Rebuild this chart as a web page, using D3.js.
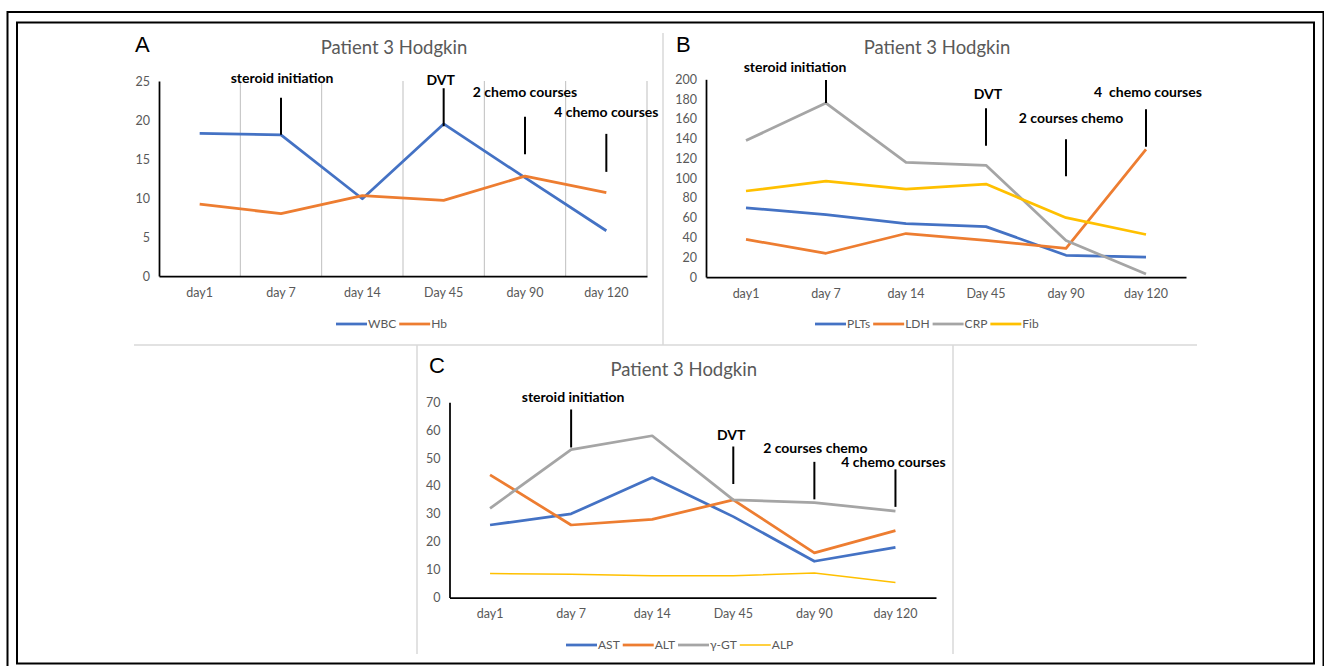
<!DOCTYPE html>
<meta charset="utf-8">
<head>
<title>Patient 3 Hodgkin</title>
<script src="https://d3js.org/d3.v7.min.js"></script>
<style>
  body { margin: 0; background: #fff; }
  text { font-family: Lato, "Open Sans", sans-serif; }
</style>
</head>
<body>
<div id="chart"></div>
<script>

    // categories shared by all three panels
    let days = ["day1", "day 7", "day 14", "Day 45", "day 90", "day 120"];

    // panel A
    let wbc = [18.3, 18.1, 9.9, 19.5, 12.6, 5.8];
    let hb = [9.2, 8.0, 10.3, 9.7, 12.8, 10.7];
    let ticksA = [0, 5, 10, 15, 20, 25];

    // panel B
    let plts = [70, 63, 54, 51, 22, 20];
    let ldh = [38, 24, 44, 37, 29, 129];
    let crp = [138, 176, 116, 113, 37, 3];
    let fib = [87, 97, 89, 94, 60, 43];
    let ticksB = [0, 20, 40, 60, 80, 100, 120, 140, 160, 180, 200];

    // panel C
    let ast = [26, 30, 43, 29, 13, 18];
    let alt = [44, 26, 28, 35, 16, 24];
    let ggt = [32, 53, 58, 35, 34, 31];
    let alp = [8.6, 8.3, 7.8, 7.8, 8.8, 5.4];
    let ticksC = [0, 10, 20, 30, 40, 50, 60, 70];

    let blue = "#4472c4", orange = "#ed7d31", grey = "#a5a5a5", yellow = "#ffc000";

    let panels = [
        {
            letter: "A", lx: 135, ly: 52,
            left: 159, right: 647, top: 81, bottom: 276, max: 25, ticks: ticksA, grid: true,
            titleY: 48,
            series: [
                { name: "WBC", values: wbc, color: blue, width: 2.75 },
                { name: "Hb", values: hb, color: orange, width: 2.75 }
            ],
            legendX: 336, legendY: 324,
            notes: [
                { at: 1, text: "steroid initiation", v: 18.1, len: 37, dy: -20, dx: 1 },
                { at: 3, text: "DVT", v: 19.2, len: 38, dy: -8, dx: -3 },
                { at: 4, text: "2 chemo courses", v: 15.6, len: 37.5, dy: -25, dx: 0 },
                { at: 5, text: "4 chemo courses", v: 13.35, len: 38, dy: -22, dx: 0 }
            ]
        },
        {
            letter: "B", lx: 676, ly: 52,
            left: 706, right: 1186, top: 79.3, bottom: 277, max: 200, ticks: ticksB, grid: false,
            titleY: 48,
            series: [
                { name: "PLTs", values: plts, color: blue, width: 2.75 },
                { name: "LDH", values: ldh, color: orange, width: 2.75 },
                { name: "CRP", values: crp, color: grey, width: 2.75 },
                { name: "Fib", values: fib, color: yellow, width: 2.75 }
            ],
            legendX: 815, legendY: 324,
            notes: [
                { at: 1, text: "steroid initiation", v: 176, len: 23, dy: -13, dx: -31 },
                { at: 3, text: "DVT", v: 132.7, len: 37.5, dy: -14, dx: 2 },
                { at: 4, text: "2 courses chemo", v: 102, len: 37, dy: -21, dx: 5 },
                { at: 5, text: "4  chemo courses", v: 131.7, len: 37.5, dy: -17, dx: 2 }
            ]
        },
        {
            letter: "C", lx: 429, ly: 373,
            left: 449.5, right: 936, top: 402.3, bottom: 597.5, max: 70, ticks: ticksC, grid: false,
            titleY: 370,
            series: [
                { name: "AST", values: ast, color: blue, width: 2.75 },
                { name: "ALT", values: alt, color: orange, width: 2.75 },
                { name: "\u03b3-GT", values: ggt, color: grey, width: 2.75 },
                { name: "ALP", values: alp, color: yellow, width: 1.5 }
            ],
            legendX: 566, legendY: 645,
            notes: [
                { at: 1, text: "steroid initiation", v: 53.8, len: 38, dy: -12.5, dx: 2 },
                { at: 3, text: "DVT", v: 40.7, len: 37.5, dy: -11, dx: -2 },
                { at: 4, text: "2 courses chemo", v: 35.2, len: 37.5, dy: -14, dx: 1 },
                { at: 5, text: "4 chemo courses", v: 32.5, len: 37.5, dy: -7.5, dx: -2 }
            ]
        }
    ];

    let svg = d3.select("#chart")
                .append("svg")
                .attr("width", 1324)
                .attr("height", 666)

    // double black frame round the figure
    svg.append("rect")
       .attr("x", 7.5).attr("y", 12).attr("width", 1316).attr("height", 670)
       .style("fill", "none").style("stroke", "#000").style("stroke-width", 2)
    svg.append("rect")
       .attr("x", 17).attr("y", 22.5).attr("width", 1297).attr("height", 641)
       .style("fill", "none").style("stroke", "#000").style("stroke-width", 2)

    // light chart-box borders
    let boxLines = [[663, 33, 663, 345], [134, 345, 1197, 345], [417, 345, 417, 654], [953, 345, 953, 654]];
    svg.selectAll("line.box")
       .data(boxLines)
       .enter()
       .append("line")
       .attr("class", "box")
       .attr("x1", (d) => d[0]).attr("y1", (d) => d[1])
       .attr("x2", (d) => d[2]).attr("y2", (d) => d[3])
       .style("stroke", "#d9d9d9")
       .style("stroke-width", 1.5)

    panels.forEach((p) => {

        let g = svg.append("g");

        let x = d3.scaleBand().domain(days).range([p.left, p.right]);
        let y = d3.scaleLinear().domain([0, p.max]).range([p.bottom, p.top]);
        let cx = (i) => x(days[i]) + x.bandwidth() / 2;

        g.append("text")
         .attr("x", p.lx).attr("y", p.ly)
         .text(p.letter)
         .style("font-family", "'Liberation Sans', Arial, sans-serif")
         .style("font-size", "22px")
         .style("fill", "#000")

        g.append("text")
         .attr("x", (p.left + p.right) / 2 - 9)
         .attr("y", p.titleY)
         .attr("dy", "0.35em")
         .attr("text-anchor", "middle")
         .text("Patient 3 Hodgkin")
         .style("font-size", "18.5px")
         .style("fill", "#595959")

        if (p.grid) {
            g.selectAll("line.grid")
             .data(days.slice(1).concat(["end"]))
             .enter()
             .append("line")
             .attr("class", "grid")
             .attr("x1", (d, i) => p.left + x.bandwidth() * (i + 1))
             .attr("x2", (d, i) => p.left + x.bandwidth() * (i + 1))
             .attr("y1", y(p.max))
             .attr("y2", y(0))
             .style("stroke", "#bfbfbf")
             .style("stroke-width", 1)
        }

        // y axis
        let yAxis = g.append("g")
                     .attr("transform", "translate(" + p.left + ",0)")
                     .call(d3.axisLeft(y).tickValues(p.ticks).tickSize(0).tickPadding(9))
        yAxis.select(".domain").style("stroke", "#000").style("stroke-width", 1.75)
        yAxis.selectAll("text").style("font-family", "Lato").style("font-size", "12.5px").style("fill", "#595959")

        // x axis
        let xAxis = g.append("g")
                     .attr("transform", "translate(0," + p.bottom + ")")
                     .call(d3.axisBottom(x).tickSize(0).tickPadding(12))
        xAxis.select(".domain").style("stroke", "#000").style("stroke-width", 1.75)
        xAxis.selectAll("text").style("font-family", "Lato").style("font-size", "12.5px").style("fill", "#595959")

        let line = d3.line()
                     .x((d, i) => cx(i))
                     .y((d) => y(d))

        g.selectAll("path.series")
         .data(p.series)
         .enter()
         .append("path")
         .attr("class", "series")
         .attr("d", (d) => line(d.values))
         .style("fill", "none")
         .style("stroke", (d) => d.color)
         .style("stroke-width", (d) => d.width)
         .style("stroke-linejoin", "round")

        // event markers
        g.selectAll("line.note")
         .data(p.notes)
         .enter()
         .append("line")
         .attr("class", "note")
         .attr("x1", (d) => cx(d.at)).attr("x2", (d) => cx(d.at))
         .attr("y1", (d) => y(d.v)).attr("y2", (d) => y(d.v) - d.len)
         .style("stroke", "#000")
         .style("stroke-width", 2)

        g.selectAll("text.note")
         .data(p.notes)
         .enter()
         .append("text")
         .attr("class", "note")
         .attr("x", (d) => cx(d.at) + d.dx)
         .attr("y", (d) => y(d.v) - d.len + d.dy)
         .attr("dy", "0.35em")
         .attr("text-anchor", "middle")
         .style("white-space", "pre")
         .text((d) => d.text)
         .style("font-size", "14px")
         .style("font-weight", "bold")
         .style("fill", "#000")

        // legend
        let lx = p.legendX;
        p.series.forEach((s) => {
            g.append("line")
             .attr("x1", lx).attr("x2", lx + 31)
             .attr("y1", p.legendY).attr("y2", p.legendY)
             .style("stroke", s.color)
             .style("stroke-width", s.width)
            let t = g.append("text")
                     .attr("x", lx + 32)
                     .attr("y", p.legendY)
                     .attr("dy", "0.35em")
                     .text(s.name)
                     .style("font-size", "12px")
                     .style("fill", "#595959")
            lx += 32 + t.node().getComputedTextLength() + 3;
        });
    });

</script>
</body>
